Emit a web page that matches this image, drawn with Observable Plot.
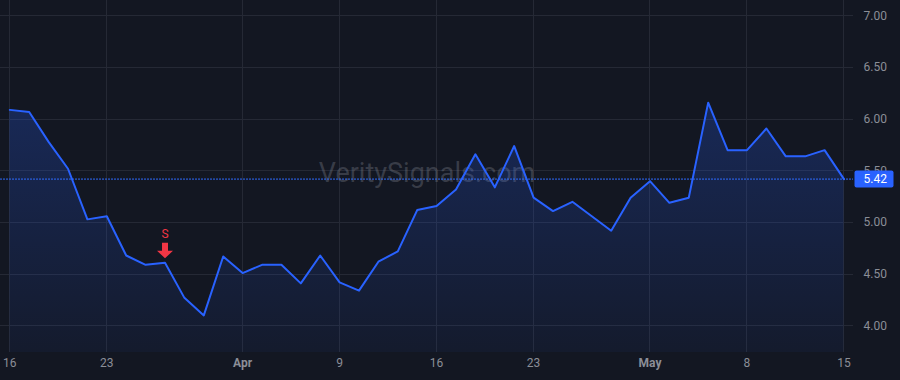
<!DOCTYPE html>
<html><head><meta charset="utf-8">
<script src="https://cdn.jsdelivr.net/npm/d3@7"></script>
<script src="https://cdn.jsdelivr.net/npm/@observablehq/plot@0.6"></script>
<style>
html,body{margin:0;padding:0;background:#131722;}
#chart{width:900px;height:380px;overflow:hidden;}
</style></head><body><div id="chart"></div>
<script>
// ---- data (trading days, Good Friday Apr 3 closed) ----
const dates = [
  "2026-03-16","2026-03-17","2026-03-18","2026-03-19","2026-03-20",
  "2026-03-23","2026-03-24","2026-03-25","2026-03-26","2026-03-27",
  "2026-03-30","2026-03-31","2026-04-01","2026-04-02","2026-04-06",
  "2026-04-07","2026-04-08","2026-04-09","2026-04-10","2026-04-13",
  "2026-04-14","2026-04-15","2026-04-16","2026-04-17","2026-04-20",
  "2026-04-21","2026-04-22","2026-04-23","2026-04-24","2026-04-27",
  "2026-04-28","2026-04-29","2026-04-30","2026-05-01","2026-05-04",
  "2026-05-05","2026-05-06","2026-05-07","2026-05-08","2026-05-11",
  "2026-05-12","2026-05-13","2026-05-14","2026-05-15"
];
const closes = [
  6.09, 6.07, 5.78, 5.52, 5.03,
  5.06, 4.68, 4.59, 4.61, 4.27,
  4.10, 4.67, 4.51, 4.59, 4.59,
  4.41, 4.68, 4.42, 4.34, 4.62,
  4.72, 5.12, 5.16, 5.32, 5.66,
  5.34, 5.74, 5.24, 5.11, 5.20,
  5.06, 4.92, 5.24, 5.40, 5.19,
  5.24, 6.16, 5.70, 5.70, 5.91,
  5.64, 5.64, 5.70, 5.42
];
const xTickDates = ["2026-03-16","2026-03-23","2026-04-01","2026-04-09","2026-04-16","2026-04-23","2026-05-01","2026-05-08","2026-05-15"];
const xTickLabels = ["16","23","Apr","9","16","23","May","8","15"];
const yTicks = [4.0, 4.5, 5.0, 5.5, 6.0, 6.5, 7.0];
const signalDates = ["2026-03-26"];
const signalLabels = ["S"];
const watermarkText = "VeritySignals.com";

// ---- derived tables ----
const data = dates.map((d, i) => ({i, date: d, close: closes[i]}));
const xTicks = xTickDates.map((d, k) => ({i: dates.indexOf(d), label: xTickLabels[k], bold: isNaN(+xTickLabels[k])}));
const signals = signalDates.map((d, k) => {const i = dates.indexOf(d); return {i, close: closes[i], label: signalLabels[k]};});
const lastClose = closes[closes.length - 1];
const yDomain = [3.741, 7.149];

const FONT = "Roboto, 'Liberation Sans', sans-serif";
const LINE = "#2962ff";
const GRID = "#252935";
const TEXT = "#8b8e97";
const RED = "#f23645";

const gradientDefs = () => {
  const defs = d3.create("svg:defs");
  const g = defs.append("linearGradient").attr("id", "areaGrad")
    .attr("x1", 0).attr("x2", 0).attr("y1", 0).attr("y2", 1);
  g.append("stop").attr("offset", "0%").attr("stop-color", LINE).attr("stop-opacity", 0.24);
  g.append("stop").attr("offset", "100%").attr("stop-color", LINE).attr("stop-opacity", 0.05);
  return defs.node();
};

const downArrow = {
  draw(ctx) {
    ctx.moveTo(-3, -8);
    ctx.lineTo(3, -8);
    ctx.lineTo(3, 0);
    ctx.lineTo(8, 0);
    ctx.lineTo(0, 7.5);
    ctx.lineTo(-8, 0);
    ctx.lineTo(-3, 0);
    ctx.closePath();
  }
};

// price-label box, anchored at the frame's right edge
const priceBox = {
  draw(ctx) {
    const x0 = 1, x1 = 40, y0 = -8.5, y1 = 8.5, r = 2;
    ctx.moveTo(x0 + r, y0);
    ctx.lineTo(x1 - r, y0);
    ctx.quadraticCurveTo(x1, y0, x1, y0 + r);
    ctx.lineTo(x1, y1 - r);
    ctx.quadraticCurveTo(x1, y1, x1 - r, y1);
    ctx.lineTo(x0 + r, y1);
    ctx.quadraticCurveTo(x0, y1, x0, y1 - r);
    ctx.lineTo(x0, y0 + r);
    ctx.quadraticCurveTo(x0, y0, x0 + r, y0);
    ctx.closePath();
  }
};

const chart = Plot.plot({
  width: 900,
  height: 380,
  marginLeft: 0,
  marginRight: 47,
  marginTop: 0,
  marginBottom: 28,
  style: {background: "#131722", fontFamily: FONT, fontSize: "12px", overflow: "visible"},
  x: {type: "linear", domain: [-0.48, 43.49], axis: null},
  y: {domain: yDomain, axis: null},
  marks: [
    gradientDefs,
    Plot.ruleY(yTicks, {stroke: GRID, strokeWidth: 1, shapeRendering: "crispEdges"}),
    Plot.ruleX(xTicks, {x: "i", stroke: GRID, strokeWidth: 1, shapeRendering: "crispEdges"}),
    Plot.text([watermarkText], {frameAnchor: "middle", dy: -3, fontSize: 27, fill: "rgba(120,123,134,0.38)"}),
    Plot.areaY(data, {x: "i", y1: yDomain[0], y2: "close", fill: "url(#areaGrad)"}),
    Plot.lineY(data, {x: "i", y: "close", stroke: LINE, strokeWidth: 2}),
    Plot.ruleY([lastClose], {stroke: "#2f6bff", strokeWidth: 1, strokeDasharray: "2,1"}),
    Plot.dot(signals, {x: "i", y: "close", symbol: downArrow, fill: RED, stroke: "none", dy: -12}),
    Plot.text(signals, {x: "i", y: "close", text: "label", fill: RED, fontSize: 12, dy: -29}),
    Plot.text(xTicks.filter(d => !d.bold), {x: "i", frameAnchor: "bottom", dy: 14, text: "label", fill: TEXT, fontSize: 12}),
    Plot.text(xTicks.filter(d => d.bold), {x: "i", frameAnchor: "bottom", dy: 14, text: "label", fill: TEXT, fontSize: 12, fontWeight: "bold"}),
    Plot.text(yTicks, {y: d => d, frameAnchor: "right", dx: 10, textAnchor: "start", text: d => d.toFixed(2), fill: TEXT, fontSize: 12}),
    Plot.dot([lastClose], {y: d => d, frameAnchor: "right", symbol: priceBox, fill: LINE, stroke: "none"}),
    Plot.text([lastClose], {y: d => d, frameAnchor: "right", dx: 10, textAnchor: "start", text: d => d.toFixed(2), fill: "#ffffff", fontSize: 12})
  ]
});
document.getElementById("chart").appendChild(chart);
</script>
</body></html>
